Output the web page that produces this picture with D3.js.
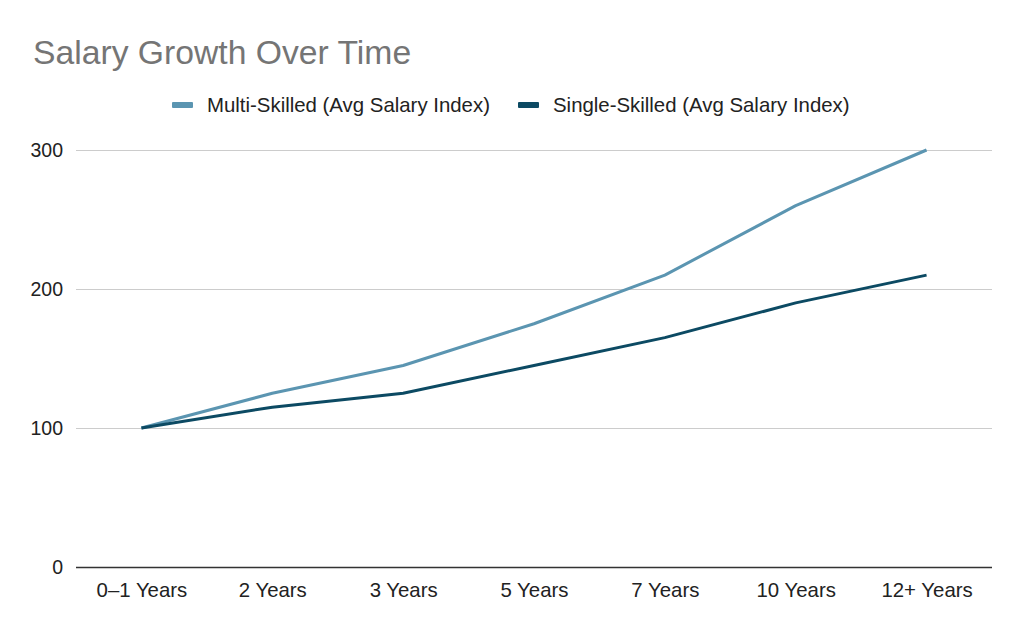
<!DOCTYPE html>
<html><head><meta charset="utf-8">
<script src="https://cdn.jsdelivr.net/npm/d3@7"></script>
<style>body{margin:0;background:#fff;}svg{display:block;font-family:Arial,"Liberation Sans",sans-serif;}</style>
</head><body>
<svg id="c" width="1024" height="633"></svg>
<script>
const categories = ["0–1 Years","2 Years","3 Years","5 Years","7 Years","10 Years","12+ Years"];
const multiSkilled = [100,125,145,175,210,260,300];
const singleSkilled = [100,115,125,145,165,190,210];
const yTicks = [0,100,200,300];
const seriesNames = ["Multi-Skilled (Avg Salary Index)","Single-Skilled (Avg Salary Index)"];
const colors = ["#5b95b1","#0c4a63"];

(function(){
const svg = d3.select("#c");
svg.append("rect").attr("width",1024).attr("height",633).attr("fill","#fff");
const pLeft=76,pRight=992,pTop=150,pBottom=567;
const x = d3.scalePoint().domain(categories).range([pLeft,pRight]).padding(0.5);
const y = d3.scaleLinear().domain([0,300]).range([pBottom,pTop]);

svg.append("text").attr("x",33).attr("y",64).attr("fill","#757575").attr("font-size",33.7).text("Salary Growth Over Time");

const yAxis = d3.axisLeft(y).tickValues(yTicks).tickSize(-(pRight-pLeft));
const gy = svg.append("g").attr("transform",`translate(${pLeft},0)`).call(yAxis);
gy.select(".domain").remove();
gy.selectAll(".tick line").attr("stroke","#cccccc").attr("stroke-width",1);
gy.selectAll(".tick text").attr("fill","#222").attr("font-size",19.5).attr("x",-13).attr("dy","0.35em");
gy.selectAll(".tick").filter(d=>d===0).select("line").attr("stroke","#333").attr("stroke-width",1.3);

const xAxis = d3.axisBottom(x).tickSize(0);
const gx = svg.append("g").attr("transform",`translate(0,${pBottom})`).call(xAxis);
gx.select(".domain").remove();
gx.selectAll(".tick text").attr("fill","#222").attr("font-size",20.4).attr("y",30).attr("dy",0);

const line = d3.line().x((d,i)=>x(categories[i])).y(d=>y(d));
[multiSkilled,singleSkilled].forEach((s,i)=>{
  svg.append("path").datum(s).attr("d",line).attr("fill","none").attr("stroke",colors[i]).attr("stroke-width",3).attr("stroke-linejoin","round");
});

const legX=[172,518];
seriesNames.forEach((n,i)=>{
  svg.append("rect").attr("x",legX[i]).attr("y",102).attr("width",21).attr("height",6).attr("rx",1).attr("fill",colors[i]);
  svg.append("text").attr("x",legX[i]+35).attr("y",112).attr("font-size",20.4).attr("fill","#222").text(n);
});
})();
</script>
</body></html>
